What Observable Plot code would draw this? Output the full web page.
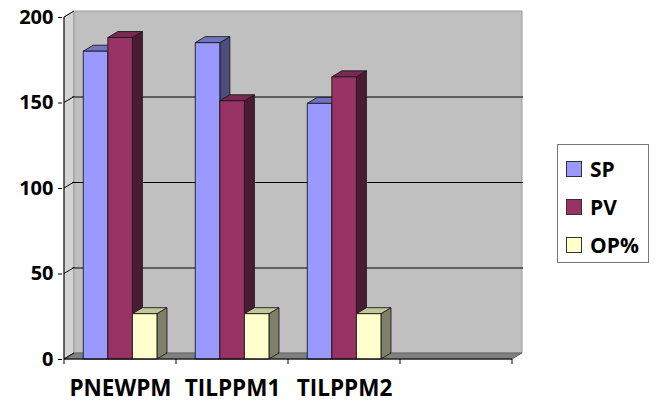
<!DOCTYPE html>
<html><head><meta charset="utf-8">
<script src="https://cdn.jsdelivr.net/npm/d3@7"></script>
<script src="https://cdn.jsdelivr.net/npm/@observablehq/plot@0.6"></script>
<style>
body{margin:0;background:#fff;}
#wrap{position:relative;width:655px;height:402px;font-family:"Open Sans",sans-serif;}
#legend{position:absolute;left:557px;top:144px;width:92px;height:119px;border:1px solid #777;box-sizing:border-box;background:#fff;}
.item{position:absolute;left:8px;height:20px;display:flex;align-items:center;font-weight:700;font-size:21px;color:#000;}
.sw{width:14px;height:14px;border:1px solid #333;margin-right:8px;flex:none;}
</style></head><body><div id="wrap"></div>
<script>
// ---- data ----
const categories = ["PNEWPM", "TILPPM1", "TILPPM2"];
const slots = ["PNEWPM", "TILPPM1", "TILPPM2", ""]; // 4th slot is empty in the original
const series = ["SP", "PV", "OP%"];
const SP = [180, 185, 149.5];
const PV = [188, 151, 165];
const OP = [26.5, 26.5, 26.5];
const yTicks = [0, 50, 100, 150, 200];
const gridValues = [50, 100, 150];

// ---- styles ----
const faceColors = {
  "SP":  {front: "#9999ff", top: "#7373c4", side: "#4d4d80"},
  "PV":  {front: "#993366", top: "#7a2952", side: "#4d1a33"},
  "OP%": {front: "#ffffcc", top: "#c4c49c", side: "#80806a"}
};
const DX = 10, DY = -6; // 3-D depth offset (px)

const seriesValues = {"SP": SP, "PV": PV, "OP%": OP};
const rows = categories.flatMap((c, i) => series.map(s => ({category: c, series: s, value: seriesValues[s][i]})));

function poly(g, pts, fill, stroke, sw = 1) {
  g.append("path").attr("d", "M" + pts.map(p => p.join(",")).join("L") + "Z")
    .attr("fill", fill).attr("stroke", stroke).attr("stroke-width", sw).attr("stroke-linejoin", "round");
}

function walls(index, scales) {
  const x = scales.x, y = scales.y;
  const bw = x(slots[1]) - x(slots[0]);
  const x0 = x(slots[0]), x1 = x(slots[slots.length - 1]) + bw;
  const y0 = y(0), yT = y(200);
  const g = d3.create("svg:g");
  poly(g, [[x0, y0], [x0, yT], [x0 + DX, yT + DY], [x0 + DX, y0 + DY]], "#d4d4d4", "#9a9a9a");
  poly(g, [[x0 + DX, yT + DY], [x1 + DX, yT + DY], [x1 + DX, y0 + DY], [x0 + DX, y0 + DY]], "#c0c0c0", "#9a9a9a");
  poly(g, [[x0, y0], [x0 + DX, y0 + DY], [x1 + DX, y0 + DY], [x1, y0]], "#808080", "#666");
  for (const v of yTicks) {
    g.append("line").attr("x1", x0).attr("y1", y(v)).attr("x2", x0 + DX).attr("y2", y(v) + DY)
      .attr("stroke", "#000").attr("stroke-width", 1);
  }
  return g.node();
}

function bars3d(index, scales) {
  const x = scales.x, y = scales.y;
  const bw = x(slots[1]) - x(slots[0]);
  const inner = d3.scaleBand().domain(series).range([0.172 * bw, 0.83 * bw]).padding(0);
  const y0 = y(0);
  const g = d3.create("svg:g");
  for (const r of rows) {
    const c = faceColors[r.series];
    const xa = x(r.category) + inner(r.series), xb = xa + inner.bandwidth();
    const yt = y(r.value);
    poly(g, [[xb, y0], [xb, yt], [xb + DX, yt + DY], [xb + DX, y0 + DY]], c.side, "#1a1a1a", 0.9);
    poly(g, [[xa, yt], [xa + DX, yt + DY], [xb + DX, yt + DY], [xb, yt]], c.top, "#1a1a1a", 0.9);
    poly(g, [[xa, yt], [xb, yt], [xb, y0], [xa, y0]], c.front, "#1a1a1a", 0.9);
  }
  const x0 = x(slots[0]), x1 = x(slots[slots.length - 1]) + bw;
  g.append("line").attr("x1", x0).attr("x2", x1).attr("y1", y0).attr("y2", y0).attr("stroke", "#000");
  g.append("line").attr("x1", x0).attr("x2", x0).attr("y1", y(200)).attr("y2", y0).attr("stroke", "#000");
  for (const s of [...slots.map(d => x(d)), x1]) {
    g.append("line").attr("x1", s).attr("x2", s).attr("y1", y0).attr("y2", y0 + 5).attr("stroke", "#000");
  }
  return g.node();
}

const plot = Plot.plot({
  width: 655,
  height: 402,
  marginLeft: 62,
  marginRight: 142,
  marginTop: 17,
  marginBottom: 43,
  style: {fontFamily: "'Open Sans', sans-serif", fontSize: "20px", fontWeight: "700", color: "#000", background: "transparent"},
  x: {type: "band", domain: slots, padding: 0, axis: null},
  y: {domain: [0, 200], ticks: yTicks, tickSize: 4, tickPadding: 5, label: null, tickFormat: d => String(d)},
  marks: [
    walls,
    Plot.ruleY(gridValues, {stroke: "#000", strokeOpacity: 1, dx: DX, dy: DY}),
    bars3d,
    Plot.text(categories, {x: d => d, frameAnchor: "bottom", lineAnchor: "top", dy: 21, fontSize: 22.5, fontWeight: 700, fill: "#000"})
  ]
});

const wrap = document.getElementById("wrap");
wrap.appendChild(plot);

const legend = document.createElement("div");
legend.id = "legend";
series.forEach((s, i) => {
  const it = document.createElement("div");
  it.className = "item";
  it.style.top = (14 + i * 38) + "px";
  const sw = document.createElement("span");
  sw.className = "sw";
  sw.style.background = faceColors[s].front;
  const t = document.createElement("span");
  t.textContent = s;
  it.appendChild(sw); it.appendChild(t);
  legend.appendChild(it);
});
wrap.appendChild(legend);
</script></body></html>
